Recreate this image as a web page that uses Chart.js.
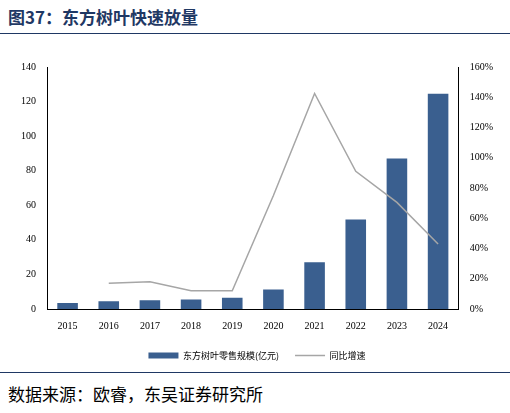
<!DOCTYPE html>
<html><head><meta charset="utf-8">
<script src="https://cdn.jsdelivr.net/npm/chart.js@4/dist/chart.umd.min.js"></script>
<style>
body{margin:0;width:510px;height:413px;background:#fff;position:relative;overflow:hidden;font-family:"Noto Sans CJK SC";}
#title{position:absolute;left:8px;top:4px;font-size:17px;font-weight:bold;color:#1f3864;}
#tl{position:absolute;left:0;top:33px;width:510px;border-top:1.5px solid #1f3864;}
#bl{position:absolute;left:0;top:372px;width:510px;border-top:1px solid #1f3864;}
#src{position:absolute;left:8px;top:381px;font-size:17px;color:#000;}
#wrap{position:absolute;left:0;top:58px;width:510px;height:312px;}
</style></head><body>
<div id="title">图37：东方树叶快速放量</div>
<div id="tl"></div>
<div id="wrap"><canvas id="chart"></canvas></div>
<div id="bl"></div>
<div id="src">数据来源：欧睿，东吴证券研究所</div>
<script>
const YEARS = ["2015","2016","2017","2018","2019","2020","2021","2022","2023","2024"];
const SALES = [3.5, 4.5, 5, 5.5, 6.5, 11.3, 27, 51.8, 87, 124.5];
const GROWTH = [null, 17, 18, 12, 12, 75, 142.5, 91, 70.5, 43];

const tickFont = { family: "Liberation Serif", size: 10 };
new Chart(document.getElementById("chart"), {
  data: {
    labels: YEARS,
    datasets: [
      { type: "bar", label: "东方树叶零售规模(亿元)", data: SALES, backgroundColor: "#3a5f8f",
        yAxisID: "y", barPercentage: 0.5, categoryPercentage: 1, order: 2, pointStyle: "rect" },
      { type: "line", label: "同比增速", data: GROWTH, borderColor: "#a6a6a6", borderWidth: 1.5,
        pointRadius: 0, yAxisID: "y1", tension: 0, order: 1, pointStyle: "line" }
    ]
  },
  options: {
    responsive: true, maintainAspectRatio: false, animation: false,
    layout: { padding: { left: 18, right: 14, top: 4 } },
    plugins: {
      legend: { position: "bottom", labels: { font: { family: "Noto Sans CJK SC", size: 9 }, color: "#000",
        usePointStyle: true, pointStyleWidth: 30, boxHeight: 6, padding: 16,
        sort: (a, b) => a.datasetIndex - b.datasetIndex } },
      tooltip: { enabled: false }
    },
    scales: {
      x: { grid: { display: false }, border: { color: "#000" }, ticks: { font: tickFont, color: "#000" } },
      y: { min: 0, max: 140, ticks: { stepSize: 20, font: tickFont, color: "#000" },
        grid: { display: false }, border: { color: "#000" } },
      y1: { position: "right", min: 0, max: 160,
        ticks: { stepSize: 20, font: tickFont, color: "#000", callback: v => v + "%" },
        grid: { display: false }, border: { color: "#000" } }
    }
  }
});
</script>
</body></html>
